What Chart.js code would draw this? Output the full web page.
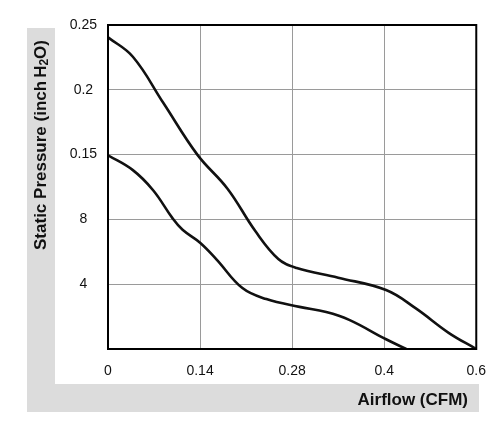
<!DOCTYPE html>
<html>
<head>
<meta charset="utf-8">
<script src="https://cdn.jsdelivr.net/npm/chart.js@4/dist/chart.umd.min.js"></script>
<style>
  html, body { margin: 0; padding: 0; background: #ffffff; }
  #wrap { width: 500px; height: 425px; position: relative; }
</style>
</head>
<body>
<div id="wrap"><canvas id="c" width="500" height="425"></canvas></div>
<script>
// Tick labels (positions are grid indices 0..4 on x, 0..5 on y)
const xTickLabels = ['0', '0.14', '0.28', '0.4', '0.6'];
const yTickLabels = ['', '4', '8', '0.15', '0.2', '0.25'];

// Upper curve (x and y in grid units)
const upperX = [0, 0.27, 0.6, 0.97, 1.3, 1.6, 1.85, 2.05, 2.5, 3.02, 3.34, 3.70, 4.0];
const upperY = [4.81, 4.51, 3.80, 3.0, 2.47, 1.82, 1.39, 1.25, 1.10, 0.91, 0.63, 0.25, 0.0];

// Lower curve
const lowerX = [0, 0.27, 0.49, 0.70, 0.81, 1.0, 1.18, 1.46, 1.72, 2.08, 2.37, 2.62, 3.02, 3.24];
const lowerY = [2.99, 2.76, 2.45, 2.02, 1.84, 1.64, 1.38, 0.94, 0.77, 0.65, 0.57, 0.45, 0.15, 0.0];

const yTitleMain = 'Static Pressure (inch';
const yTitleH = 'H';
const yTitleSub = '2';
const yTitleEnd = 'O)';
const xTitle = 'Airflow (CFM)';

const toPts = (xs, ys) => xs.map((x, i) => ({ x: x, y: ys[i] }));

const FONT = "'Liberation Sans', Arial, sans-serif";

const decor = {
  id: 'decor',
  beforeDraw(chart) {
    const ctx = chart.ctx;
    ctx.save();
    ctx.fillStyle = '#ffffff';
    ctx.fillRect(0, 0, chart.width, chart.height);
    // L-shaped gray band
    ctx.fillStyle = '#dcdcdc';
    ctx.fillRect(27, 28, 28, 384);
    ctx.fillRect(27, 384, 452, 28);
    ctx.restore();
  },
  afterDraw(chart) {
    const ctx = chart.ctx;
    const a = chart.chartArea;
    ctx.save();
    // plot frame
    ctx.strokeStyle = '#000';
    ctx.lineWidth = 2;
    ctx.strokeRect(a.left, a.top, a.right - a.left, a.bottom - a.top);

    // y title with subscript
    ctx.fillStyle = '#111';
    ctx.textBaseline = 'middle';
    ctx.translate(41, 145);
    ctx.rotate(-Math.PI / 2);
    const fMain = 'bold 17px ' + FONT;
    const fSub = 'bold 12px ' + FONT;
    const gap = 3;
    ctx.font = fMain;
    const w1 = ctx.measureText(yTitleMain).width;
    const wH = ctx.measureText(yTitleH).width;
    const w3 = ctx.measureText(yTitleEnd).width;
    ctx.font = fSub;
    const w2 = ctx.measureText(yTitleSub).width;
    const total = w1 + gap + wH + w2 + w3;
    let x = -total / 2;
    ctx.textAlign = 'left';
    ctx.font = fMain;
    ctx.fillText(yTitleMain, x, 0);
    x += w1 + gap;
    ctx.fillText(yTitleH, x, 0);
    x += wH;
    ctx.font = fSub;
    ctx.fillText(yTitleSub, x, 4);
    x += w2;
    ctx.font = fMain;
    ctx.fillText(yTitleEnd, x, 0);
    ctx.restore();

    // x title
    ctx.save();
    ctx.fillStyle = '#111';
    ctx.font = 'bold 17px ' + FONT;
    ctx.textAlign = 'right';
    ctx.textBaseline = 'middle';
    ctx.fillText(xTitle, 468, 400);
    ctx.restore();
  }
};

new Chart(document.getElementById('c'), {
  type: 'line',
  data: {
    datasets: [
      { data: toPts(upperX, upperY), borderColor: '#111', borderWidth: 2.6, pointRadius: 0, fill: false, tension: 0.4 },
      { data: toPts(lowerX, lowerY), borderColor: '#111', borderWidth: 2.6, pointRadius: 0, fill: false, tension: 0.4 }
    ]
  },
  options: {
    responsive: false,
    animation: false,
    devicePixelRatio: 1,
    layout: { padding: { left: 55, top: 25, right: 22, bottom: 41 } },
    plugins: { legend: { display: false }, tooltip: { enabled: false } },
    scales: {
      x: {
        type: 'linear', min: 0, max: 4,
        afterFit(s) { s.height = 35; },
        border: { display: false },
        grid: { color: '#9a9a9a', lineWidth: 1, drawTicks: false },
        ticks: { stepSize: 1, padding: 14, color: '#111', font: { family: FONT, size: 14 },
          maxRotation: 0, callback: v => xTickLabels[v] }
      },
      y: {
        type: 'linear', min: 0, max: 5,
        afterFit(s) { s.width = 53; },
        border: { display: false },
        grid: { color: '#9a9a9a', lineWidth: 1, drawTicks: false },
        ticks: { stepSize: 1, padding: 11, crossAlign: 'center', color: '#111', font: { family: FONT, size: 14 },
          callback: v => yTickLabels[v] }
      }
    }
  },
  plugins: [decor]
});
</script>
</body>
</html>
